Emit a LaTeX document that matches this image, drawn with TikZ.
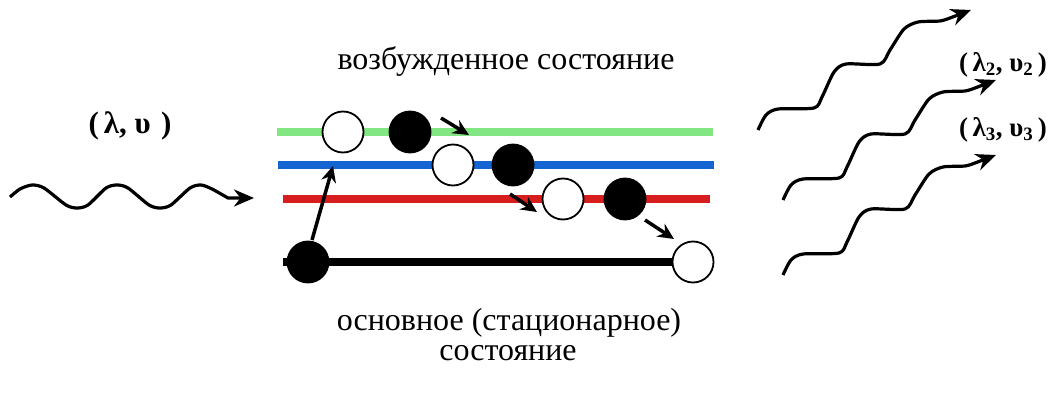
\documentclass[tikz,border=0pt]{standalone}
\usepackage{fontspec}
\setmainfont{Liberation Serif}
\usetikzlibrary{arrows.meta}
\definecolor{lvgreen}{RGB}{130,230,130}
\definecolor{lvblue}{RGB}{20,100,210}
\definecolor{lvred}{RGB}{215,30,30}
\begin{document}
\begin{tikzpicture}[x=1pt,y=-1pt,
  level/.style={line width=7.5pt},
  eempty/.style={circle,draw=black,line width=1.8pt,fill=white,minimum size=41pt,inner sep=0pt},
  efull/.style={circle,draw=black,line width=1.8pt,fill=black,minimum size=41pt,inner sep=0pt},
  jump/.style={line width=3.5pt,-{Stealth[length=16pt,width=15pt]}},
  wave/.style={line width=3.2pt,line join=round,-{Stealth[length=20pt,width=17pt]}},
  lbl/.style={font=\fontsize{32}{38}\selectfont,inner sep=0pt},
  glbl/.style={font=\fontsize{31}{36}\selectfont\bfseries,inner sep=0pt}]
\useasboundingbox (0,0) rectangle (1059,406);
% energy levels
\draw[level,lvgreen] (277,132) -- (713,132);
\draw[level,lvblue] (278,165) -- (714,165);
\draw[level,lvred] (283,199) -- (710,199);
\draw[line width=8pt,black] (283,262) -- (693,262);
% electrons
\node[eempty] (g1) at (343,132) {};
\node[efull] (g2) at (410,132) {};
\node[eempty] (b1) at (453,165) {};
\node[efull] (b2) at (513,165) {};
\node[eempty] (r1) at (563,199) {};
\node[efull] (r2) at (625,199) {};
\node[efull] (k1) at (308,262) {};
\node[eempty] (k2) at (693,262) {};
% transitions
\coordinate (a1s) at (312,240); \coordinate (a1e) at (333,166);
\coordinate (a2s) at (441,118); \coordinate (a2e) at (469,135);
\coordinate (a3s) at (510,194); \coordinate (a3e) at (537,212);
\coordinate (a4s) at (645,220); \coordinate (a4e) at (674,239);
\draw[jump] (a1s) -- (a1e);
\draw[jump] (a2s) -- (a2e);
\draw[jump] (a3s) -- (a3e);
\draw[jump] (a4s) -- (a4e);
% labels
\node[lbl] (exc) at (506,62) {возбужденное состояние};
\node[lbl] (gnd1) at (509,323) {основное (стационарное)};
\node[lbl] (gnd2) at (508,353) {состояние};
\node[glbl] (lin) at (130,126) {(\,λ, υ\,\,)};
\node[glbl,font=\fontsize{27}{32}\selectfont\bfseries] (l2) at (1003,65) {(\,λ\textsubscript{2}, υ\textsubscript{2}\,)};
\node[glbl,font=\fontsize{27}{32}\selectfont\bfseries] (l3) at (1003,130) {(\,λ\textsubscript{3}, υ\textsubscript{3}\,)};
% incoming wave
\coordinate (win) at (10,197);
\coordinate (wout) at (254,198);
\draw[wave] (win) plot[smooth,tension=0.45] coordinates {(10,197) (20,189) (32,185) (44,188) (66,205) (77,208) (88,205) (106,188) (117,185) (128,188) (149,205) (160,208) (171,205) (190,188) (201,185) (212,189) (228,198)} -- (wout);
% outgoing waves
\foreach \dx/\dy/\nm in {758/130/w1, 783/200/w2, 783/275/w3}{
  \begin{scope}[shift={(\dx,\dy)}]
  \coordinate (\nm s) at (0,0);
  \coordinate (\nm e) at (213,-120);
  \draw[wave] (\nm s) plot[smooth,tension=0.45] coordinates {(0,0) (8,-15) (20,-21) (56,-22) (64,-33) (76,-58) (88,-66) (122,-66) (132,-80) (146,-101) (160,-108) (182,-109) (192,-112)} -- (\nm e);
  \end{scope}
}
\end{tikzpicture}
\end{document}
